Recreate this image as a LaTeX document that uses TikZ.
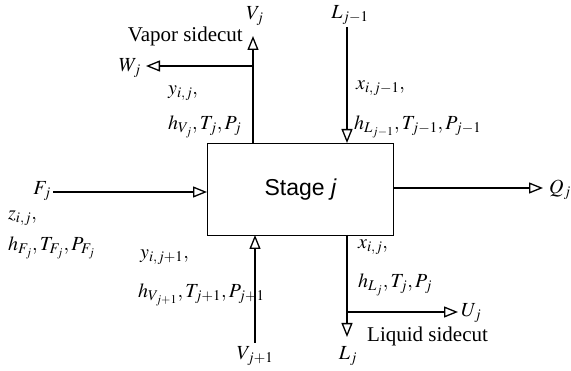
\documentclass[tikz,border=0pt]{standalone}
\usepackage{mathptmx}
\usepackage{fontspec}
\setmainfont{Liberation Serif}
\newfontfamily\arialf{Liberation Sans}
\usetikzlibrary{arrows.meta}
\begin{document}
\begin{tikzpicture}[x=1pt,y=-1pt,
  flow/.style={line width=1.3pt,-{Triangle[open,length=14pt,width=11pt,line width=1.3pt]}},
  plain/.style={line width=1.3pt},
  lbl/.style={inner sep=0pt,font=\fontsize{20}{22}\selectfont},
  txt/.style={inner sep=0pt,font=\fontsize{21}{23}\selectfont},
  every node/.style={inner sep=0pt}]
\useasboundingbox (0,0) rectangle (571,371);
% stage box
\node[draw,line width=1.3pt,minimum width=186pt,minimum height=92pt,anchor=north west] (box) at (207,143) {};
\node[font=\arialf\fontsize{23}{25}\selectfont] (stage) at (box.center) {Stage \textit{j}};
% coordinates
\coordinate (vtop) at (253,143);
\coordinate (vbr) at (253,66);
\coordinate (vup) at (253,36);
\coordinate (wend) at (146,66);
\coordinate (ltop) at (347,143);
\coordinate (lin) at (347,27);
\coordinate (fstart) at (53,192);
\coordinate (fin) at (207,192);
\coordinate (qout) at (393,188);
\coordinate (qend) at (543,188);
\coordinate (vbot) at (255,235);
\coordinate (vstart) at (255,343);
\coordinate (lbot) at (347,235);
\coordinate (ubr) at (347,312);
\coordinate (uend) at (458,312);
\coordinate (lend) at (347,337);
% labels
\node[lbl] (Vj) at (255,16) {$V_j$};
\node[txt,anchor=east] (vsc) at (243,36) {Vapor sidecut};
\node[lbl,anchor=east] (Wj) at (141,68) {$W_j$};
\node[lbl,anchor=west] (yij) at (168,93) {$y_{i,j},$};
\node[lbl,anchor=west] (hv) at (168,127) {$h_{V_j},T_j,P_j$};
\node[lbl] (Ljm) at (350,15) {$L_{j-1}$};
\node[lbl,anchor=west] (xijm) at (356,88) {$x_{i,j-1},$};
\node[lbl,anchor=west] (hl) at (354,127) {$h_{L_{j-1}},T_{j-1},P_{j-1}$};
\node[lbl,anchor=east] (Fj) at (51,191) {$F_j$};
\node[lbl,anchor=west] (zij) at (8,218) {$z_{i,j},$};
\node[lbl,anchor=west] (hf) at (8,248) {$h_{F_j},T_{F_j},P_{F_j}$};
\node[lbl,anchor=west] (Qj) at (549,190) {$Q_j$};
\node[lbl,anchor=west] (yijp) at (140,257) {$y_{i,j+1},$};
\node[lbl,anchor=west] (hvp) at (138,295) {$h_{V_{j+1}},T_{j+1},P_{j+1}$};
\node[lbl] (Vjp) at (255,356) {$V_{j+1}$};
\node[lbl,anchor=west] (xij) at (358,247) {$x_{i,j},$};
\node[lbl,anchor=west] (hlj) at (358,285) {$h_{L_j},T_j,P_j$};
\node[lbl,anchor=west] (Uj) at (461,313) {$U_j$};
\node[txt,anchor=west] (lsc) at (367,336) {Liquid sidecut};
\node[lbl] (Lj) at (348,356) {$L_j$};
% connectors
\draw[plain] (vtop) -- (vbr);
\draw[flow] (vbr) -- (vup);
\draw[flow] (vbr) -- (wend);
\draw[flow] (lin) -- (ltop);
\draw[flow] (fstart) -- (fin);
\draw[flow] (qout) -- (qend);
\draw[flow] (vstart) -- (vbot);
\draw[plain] (lbot) -- (ubr);
\draw[flow] (ubr) -- (lend);
\draw[flow] (ubr) -- (uend);
\end{tikzpicture}
\end{document}
